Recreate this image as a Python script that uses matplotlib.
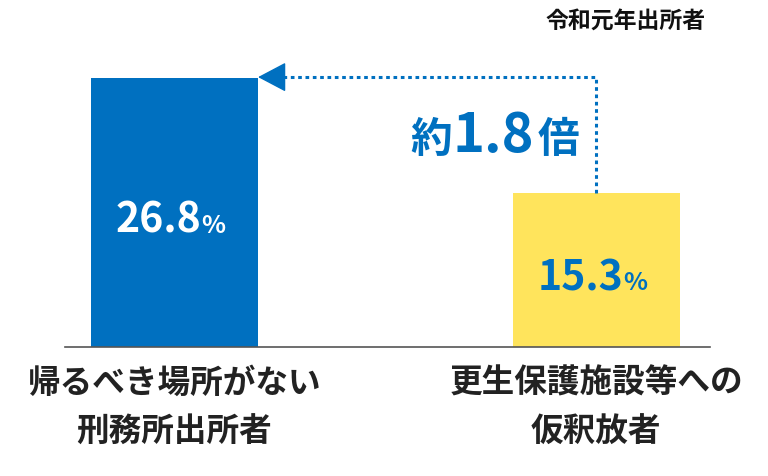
import matplotlib.pyplot as plt

plt.rcParams['font.family'] = ['Noto Sans CJK JP', 'DejaVu Sans']

categories = ["帰るべき場所がない\n刑務所出所者", "更生保護施設等への\n仮釈放者"]
values = [26.8, 15.3]
value_labels = ["26.8", "15.3"]
ratio_label = "1.8"
note = "令和元年出所者"

blue = "#0070C0"
yellow = "#FFE45C"
bar_colours = [blue, yellow]
label_colours = ["white", blue]
bar_width = 0.396

fig = plt.figure(figsize=(7.68, 4.76), dpi=100)
ax = fig.add_axes([65 / 768, 129 / 476, 645 / 768, 301 / 476])

xs = list(range(len(values)))
ax.bar(xs, values, width=bar_width, color=bar_colours, zorder=2)
ax.set_xlim(-0.26, 1.27)
ax.set_ylim(0, 30)

for s in ["top", "right", "left"]:
    ax.spines[s].set_visible(False)
ax.spines["bottom"].set_color("#555555")
ax.spines["bottom"].set_linewidth(1.2)
ax.set_xticks([])
ax.set_yticks([])

# value labels in the bars
for x, v, lab, c in zip(xs, values, value_labels, label_colours):
    ax.annotate(lab, xy=(x, v / 2), xytext=(19.5, -14.5), textcoords="offset points",
                ha="right", va="baseline", fontsize=29.5, fontweight="bold", color=c)
    ax.annotate("%", xy=(x, v / 2), xytext=(19.5, -14.5), textcoords="offset points",
                ha="left", va="baseline", fontsize=18, fontweight="bold", color=c)

# category labels
for x, cat in zip(xs, categories):
    ax.annotate(cat, xy=(x, 0), xytext=(0, -14), textcoords="offset points",
                ha="center", va="top", fontsize=23.5, fontweight="bold",
                color="#222222", linespacing=1.62)

# dotted arrow from the short bar to the edge of the tall bar
arrow_y = 26.9
tip_x = xs[0] + bar_width / 2
head_x = tip_x + 0.058
ax.plot([xs[1], xs[1], head_x], [values[1], arrow_y, arrow_y], color=blue, lw=2.2,
        ls=(0, (1.2, 1.2)), zorder=3)
ax.annotate("", xy=(tip_x, arrow_y), xytext=(head_x, arrow_y),
            arrowprops=dict(arrowstyle="-|>,head_length=1.8,head_width=0.95",
                            color=blue, lw=1, shrinkA=0, shrinkB=0))

# ratio text
tx, ty = 0.756, 19.4
ax.annotate(ratio_label, xy=(tx, ty), xytext=(0, 0), textcoords="offset points",
            ha="center", va="baseline", fontsize=39, fontweight="bold", color=blue)
ax.annotate("約", xy=(tx, ty), xytext=(-30, 0), textcoords="offset points",
            ha="right", va="baseline", fontsize=30, fontweight="bold", color=blue)
ax.annotate("倍", xy=(tx, ty), xytext=(32, 0), textcoords="offset points",
            ha="left", va="baseline", fontsize=30, fontweight="bold", color=blue)

fig.text(706 / 768, 1 - 21 / 476, note, ha="right", va="center",
         fontsize=16.5, fontweight="bold", color="#111111")

fig.savefig("out.png", dpi=100)
